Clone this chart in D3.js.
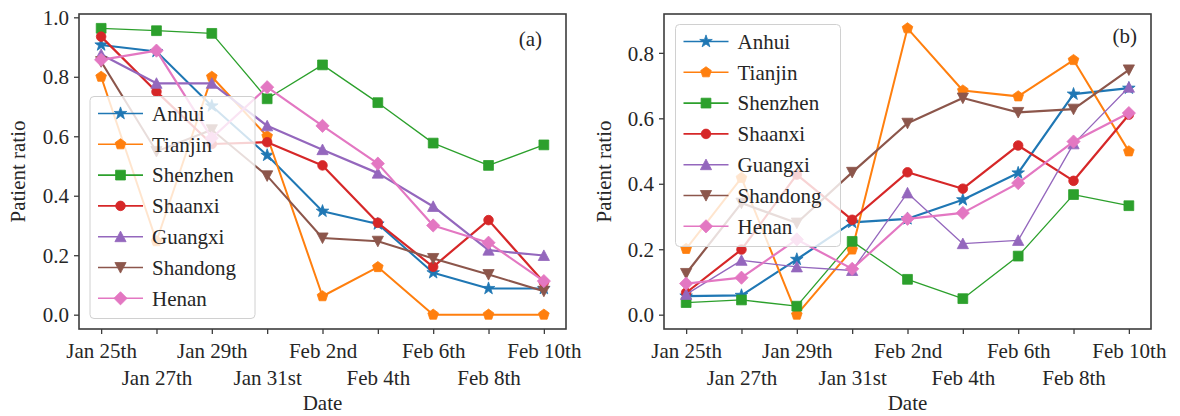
<!DOCTYPE html>
<html>
<head>
<meta charset="utf-8">
<script src="https://cdn.jsdelivr.net/npm/d3@7"></script>
<style>
  html, body { margin: 0; padding: 0; background: #fff; }
  svg { display: block; }
</style>
</head>
<body>
<svg id="chart" width="1180" height="416"></svg>
<script>
// dates on the x axis (one point every two days)
const dates = ['Jan 25th', 'Jan 27th', 'Jan 29th', 'Jan 31st', 'Feb 2nd', 'Feb 4th', 'Feb 6th', 'Feb 8th', 'Feb 10th'];
const provinces = ['Anhui', 'Tianjin', 'Shenzhen', 'Shaanxi', 'Guangxi', 'Shandong', 'Henan'];

// panel (a)
const anhuiA    = [0.907, 0.885, 0.702, 0.536, 0.348, 0.305, 0.141, 0.088, 0.088];
const tianjinA  = [0.800, 0.247, 0.800, 0.600, 0.062, 0.160, 0.000, 0.000, 0.000];
const shenzhenA = [0.963, 0.955, 0.946, 0.726, 0.840, 0.713, 0.577, 0.502, 0.571];
const shaanxiA  = [0.935, 0.750, 0.574, 0.580, 0.502, 0.309, 0.161, 0.318, 0.109];
const guangxiA  = [0.875, 0.778, 0.778, 0.635, 0.555, 0.476, 0.364, 0.217, 0.199];
const shandongA = [0.851, 0.549, 0.622, 0.467, 0.258, 0.247, 0.189, 0.135, 0.079];
const henanA    = [0.857, 0.888, 0.594, 0.765, 0.635, 0.508, 0.300, 0.242, 0.113];

// panel (b)
const anhuiB    = [0.057, 0.059, 0.169, 0.282, 0.293, 0.351, 0.433, 0.674, 0.692];
const tianjinB  = [0.201, 0.418, 0.000, 0.199, 0.875, 0.685, 0.667, 0.778, 0.499];
const shenzhenB = [0.037, 0.045, 0.026, 0.224, 0.108, 0.049, 0.179, 0.367, 0.333];
const shaanxiB  = [0.067, 0.199, 0.428, 0.290, 0.435, 0.385, 0.517, 0.409, 0.611];
const guangxiB  = [0.062, 0.166, 0.146, 0.135, 0.372, 0.217, 0.227, 0.522, 0.695];
const shandongB = [0.126, 0.341, 0.280, 0.435, 0.585, 0.662, 0.618, 0.628, 0.748];
const henanB    = [0.095, 0.113, 0.230, 0.140, 0.293, 0.311, 0.402, 0.529, 0.616];

const yTicksA = [0, 0.2, 0.4, 0.6, 0.8, 1.0];
const yTicksB = [0, 0.2, 0.4, 0.6, 0.8];

const colors = ['#1f77b4', '#ff7f0e', '#2ca02c', '#d62728', '#9467bd', '#8c564b', '#e377c2'];
const markers = ['star', 'pentagon', 'square', 'circle', 'triUp', 'triDown', 'diamond'];

const FONT = '"Liberation Serif", "Times New Roman", serif';
const FS = '21px';
const TEXT = '#262626';
const AXIS = '#3d3d3d';

// marker shapes, roughly like matplotlib's
function polygon(n, r, rot) {
  const pts = d3.range(n).map(i => {
    const a = rot + i * 2 * Math.PI / n;
    return [r * Math.cos(a), r * Math.sin(a)];
  });
  return 'M' + pts.map(p => p.join(',')).join('L') + 'Z';
}
function markerPath(type) {
  switch (type) {
    case 'star': {
      const pts = d3.range(10).map(i => {
        const r = i % 2 ? 2.6 : 6.6;
        const a = -Math.PI / 2 + i * Math.PI / 5;
        return [r * Math.cos(a), r * Math.sin(a)];
      });
      return 'M' + pts.map(p => p.join(',')).join('L') + 'Z';
    }
    case 'pentagon': return polygon(5, 5.6, -Math.PI / 2);
    case 'square': return 'M-4.9,-4.9L4.9,-4.9L4.9,4.9L-4.9,4.9Z';
    case 'circle': return 'M4.8,0A4.8,4.8 0 1,1 -4.8,0A4.8,4.8 0 1,1 4.8,0Z';
    case 'triUp': return 'M0,-5.6L5.6,5L-5.6,5Z';
    case 'triDown': return 'M0,5.6L5.6,-5L-5.6,-5Z';
    case 'diamond': return 'M0,-6.6L6.6,0L0,6.6L-6.6,0Z';
  }
}

const svg = d3.select('#chart');

function drawPanel(opts) {
  const { left, right, top, bottom, series, yTicks, widths, tag, tagX, tagY, legend, ylabelX } = opts;
  const g = svg.append('g');

  const x = d3.scaleLinear()
    .domain([-0.4, dates.length - 1 + 0.4])
    .range([left, right]);

  const ymax = d3.max(series, s => d3.max(s));
  const ymin = d3.min(series, s => d3.min(s));
  const pad = (ymax - ymin) * 0.05;
  const y = d3.scaleLinear()
    .domain([ymin - pad, ymax + pad])
    .range([bottom, top]);

  // x axis with alternating label rows
  const xa = g.append('g')
    .attr('transform', `translate(0,${bottom})`)
    .call(d3.axisBottom(x).tickValues(d3.range(dates.length)).tickFormat(i => dates[i]).tickSize(5));
  xa.select('.domain').remove();
  xa.selectAll('line').attr('stroke', AXIS).attr('stroke-width', 1.3);
  xa.selectAll('text')
    .attr('y', (d, i) => i % 2 ? 56 : 28.5)
    .attr('dy', null)
    .style('font-family', FONT).style('font-size', FS).attr('fill', TEXT);

  // y axis
  const ya = g.append('g')
    .attr('transform', `translate(${left},0)`)
    .call(d3.axisLeft(y).tickValues(yTicks).tickFormat(d3.format('.1f')).tickSize(5).tickPadding(5));
  ya.select('.domain').remove();
  ya.selectAll('line').attr('stroke', AXIS).attr('stroke-width', 1.3);
  ya.selectAll('text')
    .attr('dy', '0.34em')
    .style('font-family', FONT).style('font-size', FS).attr('fill', TEXT);

  // lines + markers
  const line = d3.line().x((d, i) => x(i)).y(d => y(d));
  series.forEach((s, k) => {
    const sg = g.append('g');
    sg.append('path')
      .datum(s)
      .attr('d', line)
      .attr('fill', 'none')
      .attr('stroke', colors[k])
      .attr('stroke-width', widths[k])
      .attr('stroke-linejoin', 'round');
    sg.selectAll('path.mk')
      .data(s)
      .join('path')
      .attr('class', 'mk')
      .attr('transform', (d, i) => `translate(${x(i)},${y(d)})`)
      .attr('d', markerPath(markers[k]))
      .attr('fill', colors[k])
      .attr('stroke', colors[k])
      .attr('stroke-width', 0.8);
  });

  // frame
  g.append('rect')
    .attr('x', left).attr('y', top)
    .attr('width', right - left).attr('height', bottom - top)
    .attr('fill', 'none')
    .attr('stroke', AXIS)
    .attr('stroke-width', 1.6);

  // panel tag
  g.append('text')
    .attr('x', tagX).attr('y', tagY)
    .attr('text-anchor', 'end')
    .style('font-family', FONT).style('font-size', FS).attr('fill', TEXT)
    .text(tag);

  // axis labels
  g.append('text')
    .attr('x', (left + right) / 2).attr('y', 410)
    .attr('text-anchor', 'middle')
    .style('font-family', FONT).style('font-size', FS).attr('fill', TEXT)
    .text('Date');
  g.append('text')
    .attr('transform', `translate(${ylabelX},${(top + bottom) / 2}) rotate(-90)`)
    .attr('text-anchor', 'middle')
    .style('font-family', FONT).style('font-size', FS).attr('fill', TEXT)
    .text('Patient ratio');

  // legend
  const lg = g.append('g').attr('transform', `translate(${legend.x},${legend.y})`);
  lg.append('rect')
    .attr('width', 165).attr('height', 222)
    .attr('rx', 4).attr('ry', 4)
    .attr('fill', '#fff').attr('fill-opacity', 0.8)
    .attr('stroke', '#d0d0d0').attr('stroke-width', 1);
  provinces.forEach((p, k) => {
    const cy = 17 + k * 30.8;
    lg.append('line')
      .attr('x1', 8).attr('x2', 53).attr('y1', cy).attr('y2', cy)
      .attr('stroke', colors[k]).attr('stroke-width', 1.6);
    lg.append('path')
      .attr('transform', `translate(30.5,${cy})`)
      .attr('d', markerPath(markers[k]))
      .attr('fill', colors[k]).attr('stroke', colors[k]).attr('stroke-width', 0.8);
    lg.append('text')
      .attr('x', 62).attr('y', cy).attr('dy', '0.35em')
      .style('font-family', FONT).style('font-size', FS).attr('fill', TEXT)
      .text(p);
  });
}

drawPanel({
  left: 79, right: 566, top: 14, bottom: 329,
  series: [anhuiA, tianjinA, shenzhenA, shaanxiA, guangxiA, shandongA, henanA],
  yTicks: yTicksA,
  widths: [2, 2, 1.3, 2.2, 2.2, 2, 2.2],
  tag: '(a)', tagX: 542, tagY: 46,
  legend: { x: 90, y: 96.5 },
  ylabelX: 25
});

drawPanel({
  left: 664, right: 1151, top: 14, bottom: 329,
  series: [anhuiB, tianjinB, shenzhenB, shaanxiB, guangxiB, shandongB, henanB],
  yTicks: yTicksB,
  widths: [2.2, 2, 1.3, 2.2, 1.3, 2.2, 2.2],
  tag: '(b)', tagX: 1137, tagY: 43,
  legend: { x: 675.5, y: 24.5 },
  ylabelX: 611
});
</script>
</body>
</html>
